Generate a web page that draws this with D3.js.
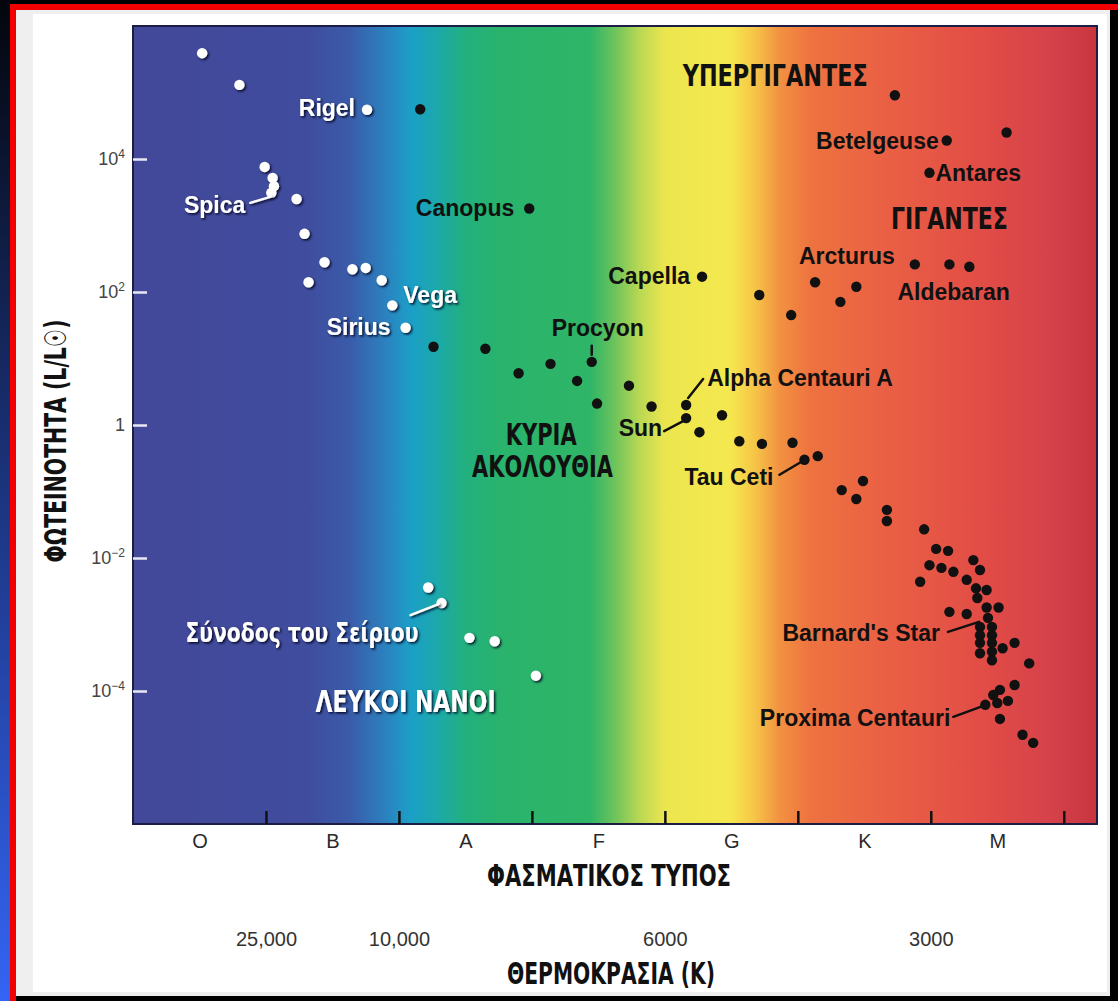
<!DOCTYPE html>
<html>
<head>
<meta charset="utf-8">
<script src="https://cdn.jsdelivr.net/npm/d3@7"></script>
<style>
  html, body { margin: 0; padding: 0; background: #000; }
  svg { display: block; }
  .narrow { font-family: 'Liberation Sans Narrow', 'Arial Narrow', 'DejaVu Sans Condensed', sans-serif; font-weight: bold; }
  .name { font-family: 'Liberation Sans', Arial, sans-serif; font-weight: bold; font-size: 23px; }
  .tick text { font-family: 'Liberation Sans', Arial, sans-serif; }
</style>
</head>
<body>
<div id="chart"></div>
<script>
// spectral position: O=0, B=1, A=2, F=3, G=4, K=5, M=6 (fraction = subclass)
// luminosity in solar units
const spectralClasses = ['O', 'B', 'A', 'F', 'G', 'K', 'M'];
const lumTicks = [1e4, 1e2, 1, 1e-2, 1e-4];
const lumExponents = [4, 2, 0, -2, -4];
const tempTicks = [1, 2, 4, 6];
const tempLabels = ['25,000', '10,000', '6000', '3000'];

// hot blue-white stars (white dots)
const hotStars = [
  [0.52, 3.9e5], [0.80, 1.3e5], [1.76, 5.5e4], [0.99, 7.6e3], [1.05, 5.2e3],
  [1.06, 3.9e3], [1.04, 3.1e3], [1.23, 2.5e3], [1.29, 7.5e2], [1.44, 2.8e2],
  [1.65, 2.2e2], [1.75, 2.3e2], [1.32, 1.4e2], [1.87, 1.5e2], [1.95, 63], [2.05, 29],
];

// white dwarfs
const whiteDwarfs = [[2.22, 3.6e-3], [2.32, 2.1e-3], [2.53, 6.3e-4], [2.72, 5.6e-4], [3.03, 1.7e-4]];

// giants and supergiants
const giants = [
  [2.16, 5.6e4], [2.98, 1.8e3], [4.28, 1.7e2], [4.71, 90], [4.95, 45],
  [5.73, 9.1e4], [6.12, 1.9e4], [6.57, 2.5e4], [5.99, 6.2e3], [5.88, 2.6e2],
  [6.14, 2.6e2], [6.29, 2.4e2], [5.13, 1.4e2], [5.44, 1.2e2], [5.32, 71],
];

// main sequence (black dots)
const mainSequence = [
  [2.26, 15], [2.65, 14], [2.90, 6.0], [3.14, 8.3], [3.45, 8.9], [3.34, 4.6],
  [3.73, 3.9], [3.49, 2.1], [3.90, 1.9], [4.16, 2.0], [4.16, 1.27], [4.26, 0.78],
  [4.43, 1.4], [4.56, 0.57], [4.73, 0.52], [4.96, 0.54], [5.05, 0.30], [5.15, 0.34],
  [5.33, 0.105], [5.49, 0.144], [5.44, 0.077], [5.67, 0.053], [5.67, 0.036],
  [5.95, 0.027], [6.04, 0.0137], [6.13, 0.0128], [5.99, 7.8e-3], [6.08, 7.1e-3],
  [6.17, 6.2e-3], [5.92, 4.4e-3], [6.32, 9.3e-3], [6.37, 6.6e-3], [6.27, 4.7e-3],
  [6.34, 3.5e-3], [6.42, 3.3e-3], [6.35, 2.5e-3], [6.42, 1.8e-3], [6.51, 1.8e-3],
  [6.14, 1.55e-3], [6.27, 1.44e-3], [6.43, 1.26e-3], [6.37, 9.2e-4], [6.46, 9.2e-4],
  [6.37, 6.9e-4], [6.46, 6.9e-4], [6.37, 5.3e-4], [6.46, 5.3e-4], [6.37, 3.7e-4],
  [6.46, 3.9e-4], [6.46, 2.9e-4], [6.54, 4.4e-4], [6.63, 5.3e-4], [6.74, 2.6e-4],
  [6.63, 1.23e-4], [6.52, 1.04e-4], [6.47, 8.7e-5], [6.58, 7.1e-5], [6.41, 6.2e-5],
  [6.50, 6.6e-5], [6.52, 3.8e-5], [6.69, 2.2e-5], [6.77, 1.66e-5],
];

// named stars: [name, spectral position, luminosity]
const namedStars = [
  ['Rigel', 1.76, 5.5e4], ['Spica', 1.04, 3.1e3], ['Vega', 1.95, 63], ['Sirius', 2.05, 29],
  ['Σύνοδος του Σείριου', 2.32, 2.1e-3], ['Canopus', 2.98, 1.8e3], ['Capella', 4.28, 1.7e2],
  ['Procyon', 3.45, 8.9], ['Alpha Centauri A', 4.16, 2.0], ['Sun', 4.16, 1.27],
  ['Tau Ceti', 5.05, 0.30], ['Betelgeuse', 6.12, 1.9e4], ['Antares', 5.99, 6.2e3],
  ['Arcturus', 5.88, 2.6e2], ['Aldebaran', 6.14, 2.6e2], ["Barnard's Star", 6.37, 9.2e-4],
  ['Proxima Centauri', 6.41, 6.2e-5],
];

// region names
const regionNames = ['ΥΠΕΡΓΙΓΑΝΤΕΣ', 'ΓΙΓΑΝΤΕΣ', 'ΚΥΡΙΑ', 'ΑΚΟΛΟΥΘΙΑ', 'ΛΕΥΚΟΙ ΝΑΝΟΙ'];
const regionSpec = [4.83, 6.14, 3.07, 3.08, 2.05];
const regionLum = [1.26e5, 8.9e2, 0.50, 0.166, 4.8e-5];

// Layout ///////////////////////////////////
const W = 1118;
const H = 1001;
const x = d3.scaleLinear().domain([0, 7.25]).range([133, 1097]);
const y = d3.scaleLog().domain([1e-6, 1e6]).range([824, 26]);

const labelLayout = {
  Rigel: { dx: -12, dy: 6, anchor: 'end', light: true },
  Spica: { dx: -26, dy: 20, anchor: 'end', light: true, leader: [-21, 10, -1, 4] },
  Vega: { dx: 11, dy: -2, anchor: 'start', light: true },
  Sirius: { dx: -15, dy: 7, anchor: 'end', light: true },
  'Σύνοδος του Σείριου': { dx: -23, dy: 39, anchor: 'end', light: true, narrow: true, width: 233, leader: [-31, 12, -3, 1] },
  Canopus: { dx: -15, dy: 7, anchor: 'end' },
  Capella: { dx: -12, dy: 7, anchor: 'end' },
  Procyon: { dx: 6, dy: -26, anchor: 'middle', leader: [0, -16, 0, -7] },
  'Alpha Centauri A': { dx: 21, dy: -19, anchor: 'start', leader: [17, -26, 2, -7] },
  Sun: { dx: -24, dy: 18, anchor: 'end', leader: [-22, 13, -3, 3] },
  'Tau Ceti': { dx: -31, dy: 25, anchor: 'end', leader: [-25, 15, -3, 2] },
  Betelgeuse: { dx: -8, dy: 9, anchor: 'end' },
  Antares: { dx: 6, dy: 8, anchor: 'start' },
  Arcturus: { dx: -20, dy: 0, anchor: 'end' },
  Aldebaran: { dx: -52, dy: 36, anchor: 'start' },
  "Barnard's Star": { dx: -40, dy: 14, anchor: 'end', leader: [-32, 5, -1, -5] },
  'Proxima Centauri': { dx: -35, dy: 21, anchor: 'end', leader: [-32, 12, -2, 1] },
};
const regionWidths = [185, 117, 71, 141, 180];

const spectrumStops = [
  [0, '#434899'], [1.3, '#404c9e'], [1.63, '#3a5ba9'], [1.89, '#2c80be'], [2.08, '#1c9ec8'],
  [2.27, '#1ba8ae'], [2.5, '#22b07f'], [2.76, '#29b36c'], [3.44, '#2fb567'], [3.62, '#6cc35c'],
  [3.81, '#b9d853'], [4.0, '#ece64e'], [4.49, '#f5e84f'], [4.68, '#f6c447'], [4.86, '#f29241'],
  [5.09, '#ee7340'], [5.62, '#ea6144'], [6.37, '#e24d46'], [6.89, '#d6424a'], [7.25, '#c8353f'],
];

const svg = d3.select('#chart').append('svg').attr('width', W).attr('height', H);
const defs = svg.append('defs');

// slide frame
const side = defs.append('linearGradient').attr('id', 'side').attr('x1', 0).attr('y1', 0).attr('x2', 0).attr('y2', 1);
side.append('stop').attr('offset', 0).attr('stop-color', '#04060c');
side.append('stop').attr('offset', 1).attr('stop-color', '#3464f4');

const spectrum = defs.append('linearGradient').attr('id', 'spectrum')
  .attr('gradientUnits', 'userSpaceOnUse')
  .attr('x1', x(0)).attr('x2', x(7.25)).attr('y1', 0).attr('y2', 0);
spectrum.selectAll('stop').data(spectrumStops).join('stop')
  .attr('offset', d => (x(d[0]) - x(0)) / (x(7.25) - x(0)))
  .attr('stop-color', d => d[1]);

const shadow = defs.append('filter').attr('id', 'shadow')
  .attr('x', '-20%').attr('y', '-40%').attr('width', '150%').attr('height', '200%');
shadow.append('feDropShadow').attr('dx', 1.5).attr('dy', 1.5).attr('stdDeviation', 1.3)
  .attr('flood-color', '#05051a').attr('flood-opacity', 0.9);

svg.append('rect').attr('width', W).attr('height', H).attr('fill', '#000');
svg.append('rect').attr('x', 0).attr('y', 0).attr('width', 10).attr('height', H).attr('fill', 'url(#side)');
// red rule only along the top and left edges
svg.append('rect').attr('x', 10).attr('y', 4).attr('width', W - 10).attr('height', 6).attr('fill', '#f20000');
svg.append('rect').attr('x', 10).attr('y', 4).attr('width', 6).attr('height', H - 4).attr('fill', '#f20000');
svg.append('rect').attr('x', 16).attr('y', 10).attr('width', 1094).attr('height', 986).attr('fill', '#efefef');
svg.append('rect').attr('x', 33).attr('y', 14).attr('width', 1074).attr('height', 978).attr('fill', '#fff');

// plot background
const [x0, x1] = x.range();
const [yb, yt] = y.range();
svg.append('rect')
  .attr('x', x0).attr('y', yt).attr('width', x1 - x0).attr('height', yb - yt)
  .attr('fill', 'url(#spectrum)')
  .attr('stroke', '#1c1d45').attr('stroke-width', 2);

// Axes /////////////////////////////////////
const tickG = svg.append('g').attr('transform', `translate(0,${yb})`)
  .call(d3.axisBottom(x).tickValues([1, 2, 3, 4, 5, 6, 7]).tickSizeInner(-13).tickSizeOuter(0).tickFormat(''));
tickG.select('.domain').remove();
tickG.selectAll('line').attr('stroke', '#111').attr('stroke-width', 2.5);

const classG = svg.append('g').attr('transform', `translate(0,${yb})`)
  .call(d3.axisBottom(x).tickValues(d3.range(7).map(i => i + 0.5)).tickSize(0).tickPadding(10)
    .tickFormat((d, i) => spectralClasses[i]));
classG.select('.domain').remove();
classG.selectAll('text').attr('font-size', 20).attr('fill', '#2a2a2a');

const tempG = svg.append('g').attr('transform', `translate(0,${yb})`)
  .call(d3.axisBottom(x).tickValues(tempTicks).tickSize(0).tickPadding(108)
    .tickFormat((d, i) => tempLabels[i]));
tempG.select('.domain').remove();
tempG.selectAll('text').attr('font-size', 20).attr('fill', '#333');

const yG = svg.append('g').attr('transform', `translate(${x0},0)`)
  .call(d3.axisLeft(y).tickValues(lumTicks).tickSizeInner(-14).tickSizeOuter(0).tickPadding(8).tickFormat(''));
yG.select('.domain').remove();
yG.selectAll('line').attr('stroke', '#e8e8f4').attr('stroke-width', 2.5);
yG.selectAll('text').each(function(d, i) {
  const t = d3.select(this).attr('font-size', 18).attr('fill', '#444');
  const e = lumExponents[i];
  if (e === 0) {
    t.text('1');
  } else {
    t.append('tspan').text('10');
    t.append('tspan').attr('dy', -7).attr('font-size', 12).text(String(e).replace('-', '−'));
  }
});

// axis titles
svg.append('text').attr('class', 'narrow')
  .attr('transform', 'translate(66,441) rotate(-90)')
  .attr('text-anchor', 'middle').attr('font-size', 30).attr('fill', '#111')
  .attr('textLength', 243).attr('lengthAdjust', 'spacingAndGlyphs')
  .text('ΦΩΤΕΙΝΟΤΗΤΑ (L/L☉)');

svg.append('text').attr('class', 'narrow')
  .attr('x', 609).attr('y', 886)
  .attr('text-anchor', 'middle').attr('font-size', 30).attr('fill', '#111')
  .attr('textLength', 244).attr('lengthAdjust', 'spacingAndGlyphs')
  .text('ΦΑΣΜΑΤΙΚΟΣ ΤΥΠΟΣ');

svg.append('text').attr('class', 'narrow')
  .attr('x', 611).attr('y', 984)
  .attr('text-anchor', 'middle').attr('font-size', 30).attr('fill', '#111')
  .attr('textLength', 208).attr('lengthAdjust', 'spacingAndGlyphs')
  .text('ΘΕΡΜΟΚΡΑΣΙΑ (K)');

// Region names /////////////////////////////
svg.append('g').selectAll('text')
  .data(regionNames)
  .join('text')
  .attr('class', 'narrow')
  .attr('x', (d, i) => x(regionSpec[i]))
  .attr('y', (d, i) => y(regionLum[i]))
  .attr('text-anchor', 'middle')
  .attr('font-size', 30)
  .attr('fill', (d, i) => (i === 4 ? '#fff' : '#111'))
  .attr('filter', (d, i) => (i === 4 ? 'url(#shadow)' : null))
  .attr('textLength', (d, i) => regionWidths[i])
  .attr('lengthAdjust', 'spacingAndGlyphs')
  .text(d => d);

// Stars ////////////////////////////////////
function drawDots(data, fill, filter) {
  svg.append('g')
    .attr('filter', filter)
    .selectAll('circle')
    .data(data)
    .join('circle')
    .attr('cx', d => x(d[0]))
    .attr('cy', d => y(d[1]))
    .attr('r', 5.2)
    .attr('fill', fill);
}
drawDots(hotStars, '#fff', 'url(#shadow)');
drawDots(whiteDwarfs, '#fff', 'url(#shadow)');
drawDots(giants, '#111', null);
drawDots(mainSequence, '#111', null);

// star labels and leader lines
const labelG = svg.append('g');
namedStars.forEach(([name, spec, lum]) => {
  const opt = labelLayout[name];
  const cx = x(spec);
  const cy = y(lum);
  const color = opt.light ? '#fff' : '#111';
  if (opt.leader) {
    const [ax, ay, bx, by] = opt.leader;
    labelG.append('line')
      .attr('x1', cx + ax).attr('y1', cy + ay)
      .attr('x2', cx + bx).attr('y2', cy + by)
      .attr('stroke', color).attr('stroke-width', 2.5).attr('stroke-linecap', 'round')
      .attr('filter', opt.light ? 'url(#shadow)' : null);
  }
  const t = labelG.append('text')
    .attr('class', opt.narrow ? 'narrow' : 'name')
    .attr('x', cx + opt.dx)
    .attr('y', cy + opt.dy)
    .attr('text-anchor', opt.anchor)
    .attr('fill', color)
    .attr('filter', opt.light ? 'url(#shadow)' : null)
    .text(name);
  if (opt.narrow) {
    t.attr('font-size', 26)
      .attr('textLength', opt.width).attr('lengthAdjust', 'spacingAndGlyphs');
  }
});
</script>
</body>
</html>
